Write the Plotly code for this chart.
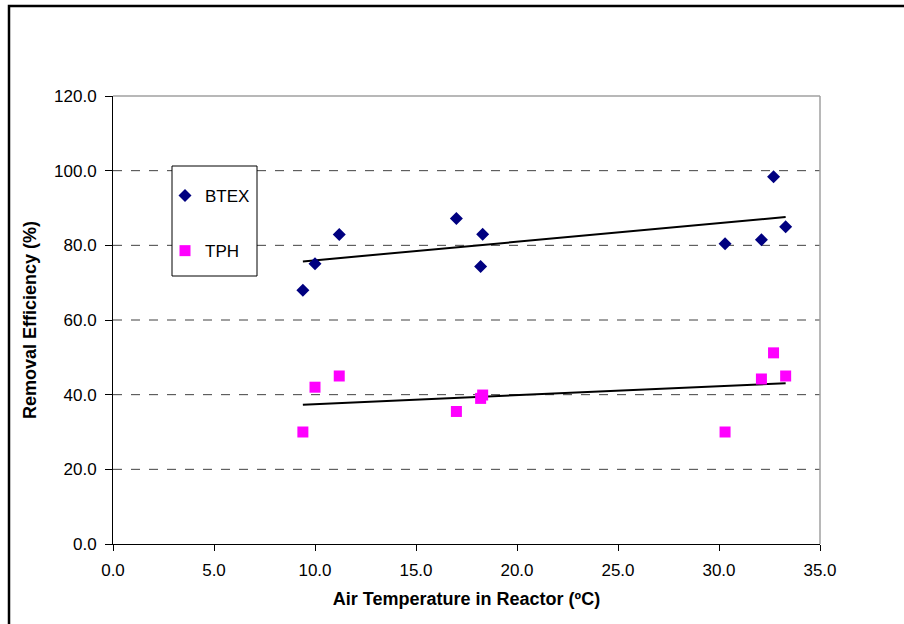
import numpy as np
import plotly.graph_objects as go

btex_x = [9.4, 10.0, 11.2, 17.0, 18.3, 18.2, 30.3, 32.1, 32.7, 33.3]
btex_y = [68.0, 75.1, 82.9, 87.2, 83.0, 74.3, 80.4, 81.5, 98.4, 85.0]
tph_x = [9.4, 10.0, 11.2, 17.0, 18.2, 18.3, 30.3, 32.1, 32.7, 33.3]
tph_y = [30.0, 42.0, 45.0, 35.5, 39.0, 39.9, 30.0, 44.2, 51.2, 45.0]

x_ticks = [0, 5, 10, 15, 20, 25, 30, 35]
y_ticks = [0, 20, 40, 60, 80, 100, 120]

W, H = 904, 624
L, R, T, B = 113, 84, 96, 80
pw, ph = W - L - R, H - T - B

def px(xp):
    return (xp - L) / pw

def py(yp):
    return (H - B - yp) / ph

fig = go.Figure()

def trend(xs, ys):
    m, c = np.polyfit(xs, ys, 1)
    xx = [min(xs), max(xs)]
    return xx, [m * v + c for v in xx]

for xs, ys in [(btex_x, btex_y), (tph_x, tph_y)]:
    tx, ty = trend(xs, ys)
    fig.add_trace(go.Scatter(x=tx, y=ty, mode="lines", line=dict(color="black", width=2),
                             showlegend=False, hoverinfo="skip"))

fig.add_trace(go.Scatter(x=btex_x, y=btex_y, mode="markers", name="BTEX", legendgroup="a",
                         marker=dict(symbol="diamond", size=10, color="#000080",
                                     line=dict(width=0))))
fig.add_trace(go.Scatter(x=tph_x, y=tph_y, mode="markers", name="TPH", legendgroup="b",
                         marker=dict(symbol="square", size=11, color="#FF00FF",
                                     line=dict(width=0))))

font = "Arial, Liberation Sans, sans-serif"

fig.update_layout(
    width=W, height=H,
    margin=dict(l=L, r=R, t=T, b=B),
    paper_bgcolor="white", plot_bgcolor="white",
    font=dict(family=font, size=17, color="black"),
    showlegend=True,
    legend=dict(x=px(165), y=py(178), xanchor="left", yanchor="top",
                bgcolor="rgba(0,0,0,0)", borderwidth=0,
                font=dict(size=17, family=font), tracegroupgap=30,
                itemwidth=30),
    xaxis=dict(range=[0, 35], tickvals=x_ticks, ticktext=[f"{v:.1f}" for v in x_ticks],
               showgrid=False, zeroline=False, showline=True, linecolor="black", linewidth=1,
               ticks="outside", ticklen=6, tickcolor="black", ticklabelstandoff=5,
               title=dict(text="<b>Air Temperature in Reactor (ºC)</b>", font=dict(size=18), standoff=12)),
    yaxis=dict(range=[0, 120], tickvals=y_ticks, ticktext=[f"{v:.1f}" for v in y_ticks],
               showgrid=False, zeroline=False, showline=True, linecolor="black", linewidth=1,
               ticks="outside", ticklen=7, tickcolor="black", ticklabelstandoff=5,
               title=dict(text="<b>Removal Efficiency (%)</b>", font=dict(size=18), standoff=12)),
)

shapes = []
for v in [20, 40, 60, 80, 100]:
    shapes.append(dict(type="line", xref="paper", yref="y", x0=0, x1=1, y0=v, y1=v,
                       line=dict(color="#404040", width=1, dash="dash"), layer="below"))
# plot area top/right border
shapes.append(dict(type="line", xref="paper", yref="paper", x0=0, x1=1, y0=1, y1=1,
                   line=dict(color="#a0a0a0", width=1.5)))
shapes.append(dict(type="line", xref="paper", yref="paper", x0=1, x1=1, y0=0, y1=1,
                   line=dict(color="#a0a0a0", width=1.5)))
# legend box
shapes.append(dict(type="rect", xref="paper", yref="paper", x0=px(172), x1=px(257),
                   y0=py(276), y1=py(166), line=dict(color="black", width=1),
                   fillcolor="white", layer="below"))
# outer frame
shapes.append(dict(type="rect", xref="paper", yref="paper", x0=px(9), x1=px(960),
                   y0=py(700), y1=py(6), line=dict(color="black", width=2.5)))
fig.update_layout(shapes=shapes)

fig.write_html("out.html", config={"displayModeBar": False},
               post_script="document.body.style.margin='0';document.body.style.overflow='hidden';")
